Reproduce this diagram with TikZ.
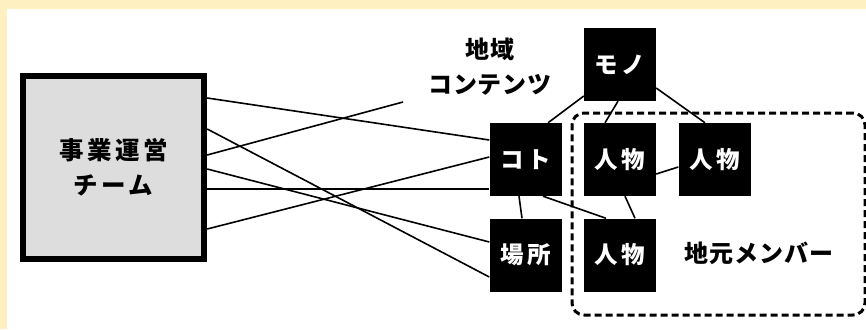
\documentclass[tikz,border=0pt]{standalone}
\usepackage{fontspec}
\newfontfamily\jpbox[LetterSpace=14]{Noto Sans CJK JP}
\newfontfamily\jplbl[LetterSpace=4]{Noto Sans CJK JP}
\definecolor{bgyellow}{HTML}{FFF0C2}
\definecolor{teamgray}{HTML}{DDDDDD}
\begin{document}
\begin{tikzpicture}[x=1pt,y=-1pt,
  blk/.style={fill=black,text=white,minimum width=72,minimum height=73,inner sep=0,
    font=\jpbox\bfseries\fontsize{23.5}{26}\selectfont},
  lbl/.style={inner sep=0,align=center,font=\jplbl\bfseries\fontsize{24}{35}\selectfont},
  conn/.style={line width=1.6pt,black},
  grpbox/.style={draw,line width=3pt,dash pattern=on 7pt off 4pt,rounded corners=12pt,
    minimum width=293,minimum height=202,inner sep=0}]
\useasboundingbox (0,0) rectangle (866,329);
\fill[bgyellow] (0,0) rectangle (866,329);
\fill[white] (7,9) rectangle (866,329);
% team box
\node[draw,line width=6pt,fill=teamgray,minimum width=181,minimum height=183,inner sep=0,
  align=center,font=\jpbox\bfseries\fontsize{24.5}{35}\selectfont] (team) at (113.7,167.5)
  {事業運営\\チーム};
% dashed group
\node[grpbox] (grp) at (718.5,214) {};
% black boxes
\node[blk] (mono) at (620,64.5) {モノ};
\node[blk] (koto) at (525.5,159.5) {コト};
\node[blk] (hito1) at (620,159.5) {人物};
\node[blk] (hito2) at (714.5,159.5) {人物};
\node[blk] (basho) at (525.5,255) {場所};
\node[blk] (hito3) at (620,255) {人物};
% labels
\node[lbl] (chiiki) at (490,67) {地域\\コンテンツ};
\coordinate (chiikiend) at (403,102);
\node[lbl] (jimoto) at (759,253) {地元メンバー};
% connectors from team
\draw[conn] (team.east |- 0,98) -- (koto.west |- 0,140);
\draw[conn] (team.east |- 0,155) -- (chiikiend);
\draw[conn] (team.east |- 0,129) -- (basho.west |- 0,277);
\draw[conn] (team.east |- 0,169) -- (basho.west |- 0,242);
\draw[conn] (team.east |- 0,189) -- (koto.west |- 0,189);
\draw[conn] (team.east |- 0,229) -- (koto.west |- 0,157);
% connectors between boxes
\draw[conn] (mono.west |- 0,96) -- (koto.north -| 548,0);
\draw[conn] (mono.south -| 618,0) -- (hito1.north -| 605,0);
\draw[conn] (mono.east |- 0,88) -- (hito2.north -| 705,0);
\draw[conn] (hito1.east |- 0,174) -- (hito2.west |- 0,167);
\draw[conn] (hito1.south -| 625,0) -- (hito3.north -| 635,0);
\draw[conn] (koto.south -| 519,0) -- (basho.north -| 522,0);
\draw[conn] (koto.south -| 543,0) -- (hito3.north -| 606,0);
\end{tikzpicture}
\end{document}
